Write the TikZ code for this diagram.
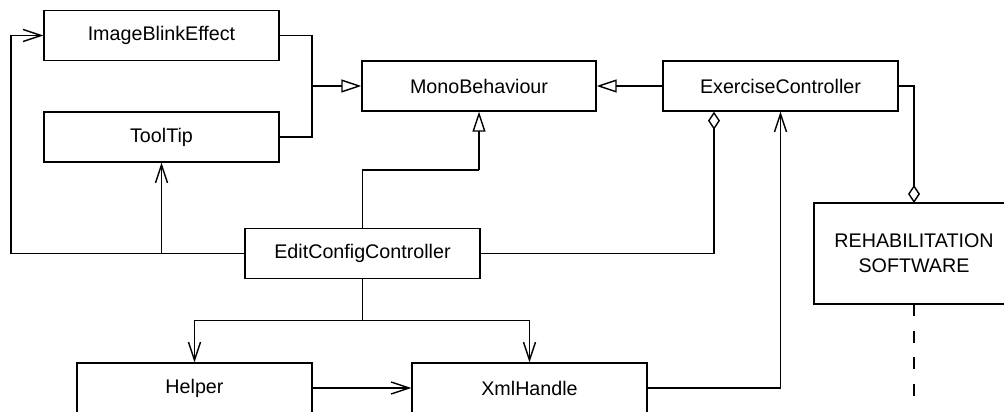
\documentclass[tikz,border=0pt]{standalone}
\usepackage{fontspec}
\setmainfont{Liberation Sans}
\usetikzlibrary{arrows.meta}
\begin{document}
\begin{tikzpicture}[x=1pt,y=-1pt,
  cls/.style={draw, line width=1.4pt, minimum width=235pt, minimum height=50pt, inner sep=0pt,
    font=\fontsize{19.7}{25}\selectfont, align=center},
  conn/.style={line width=1.4pt},
  inh/.style={conn, -{Triangle[open, length=20pt, width=13pt, line width=1.4pt]}},
  assoc/.style={conn, -{Straight Barb[length=18pt, width=12pt, line width=1.4pt]}},
  aggr/.style={conn, -{Diamond[open, length=18pt, width=12pt, line width=1.4pt]}},
  lifeline/.style={conn, dash pattern=on 12pt off 14.5pt}
]
\useasboundingbox (0,0) rectangle (1004,412);
\node[cls] (ibe) at (161.5,35.5) {ImageBlinkEffect};
\node[cls] (tt) at (161.5,137) {ToolTip};
\node[cls, minimum width=234pt] (mono) at (479,86) {MonoBehaviour};
\node[cls] (ex) at (780.5,86) {ExerciseController};
\node[cls] (ecc) at (362.5,253.5) {EditConfigController};
\node[cls] (helper) at (194.5,388) {Helper};
\node[cls] (xml) at (529.5,388) {XmlHandle};
\node[cls, minimum width=220pt, minimum height=101pt, text width=180pt, xshift=10pt] (rehabbox) at (914,253.5) {};
\node[font=\fontsize{19.7}{25}\selectfont, align=center, inner sep=0pt] (rehab) at (914,253.5) {REHABILITATION\\SOFTWARE};

\coordinate (j1) at (312,86);
\coordinate (j2) at (11,253.5);
\coordinate (j3) at (161.5,253.5);
\coordinate (j4) at (362.5,320.5);
\coordinate (j5) at (479,170);
\coordinate (rtop) at (914,203);
\coordinate (rbot) at (914,304);
\coordinate (life) at (914,396);

\draw[conn] (ibe.east) -| (j1);
\draw[conn] (tt.east) -| (j1);
\draw[inh] (j1) -- (mono.west);
\draw[inh] (ex.west) -- (mono.east);
\draw[conn] (ecc.north) |- (j5);
\draw[inh] (j5) -- (mono.south);
\draw[conn] (ecc.west) -- (j2);
\draw[assoc] (j2) |- (ibe.west);
\draw[assoc] (j3) -- (tt.south);
\draw[aggr] (ecc.east) -| (ex.south -| 714,0);
\draw[assoc] (xml.east) -| (ex.south);
\draw[aggr] (ex.east) -| (rtop);
\draw[conn] (ecc.south) -- (j4);
\draw[assoc] (j4) -| (helper.north);
\draw[assoc] (j4) -| (xml.north);
\draw[assoc] (helper.east) -- (xml.west);
\draw[lifeline] (rbot) -- (life);
\end{tikzpicture}
\end{document}
